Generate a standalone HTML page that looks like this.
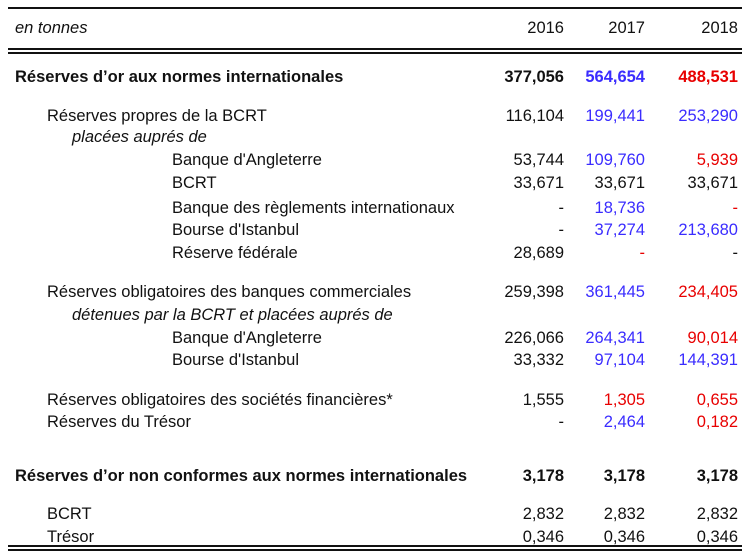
<!DOCTYPE html>
<html><head><meta charset="utf-8"><style>
body{margin:0;width:754px;height:558px;background:#fff;position:relative;overflow:hidden;font-family:"Liberation Sans",sans-serif;font-size:16.5px;color:#111}
.r{position:absolute;left:0;width:754px;height:20px;line-height:20px}
.l{position:absolute;white-space:nowrap}
.n{position:absolute;text-align:right;width:90px}
.b{font-weight:bold}.i .l{font-style:italic}
.bl{color:#3a2cff}.rd{color:#e80000}
.line{position:absolute;left:8px;width:734px;background:#111;height:2px}
</style></head><body>
<div class="line" style="top:7px"></div>
<div class="line" style="top:48px"></div>
<div class="line" style="top:52px"></div>
<div class="line" style="top:545px"></div>
<div class="line" style="top:549px"></div>
<div id="rows"></div>
<script>
const rows=[
[18,15,'en tonnes','i',['2016','2017','2018'],['','','']],
[67,15,'Réserves d’or aux normes internationales','b',['377,056','564,654','488,531'],['','bl','rd']],
[106,47,'Réserves propres de la BCRT','',['116,104','199,441','253,290'],['','bl','bl']],
[127,72,'placées auprés de','i',null,null],
[150,172,'Banque d\'Angleterre','',['53,744','109,760','5,939'],['','bl','rd']],
[173,172,'BCRT','',['33,671','33,671','33,671'],['','','']],
[198,172,'Banque des règlements internationaux','',['-','18,736','-'],['','bl','rd']],
[220,172,'Bourse d\'Istanbul','',['-','37,274','213,680'],['','bl','bl']],
[243,172,'Réserve fédérale','',['28,689','-','-'],['','rd','']],
[282,47,'Réserves obligatoires des banques commerciales','',['259,398','361,445','234,405'],['','bl','rd']],
[305,72,'détenues par la BCRT et placées auprés de','i',null,null],
[328,172,'Banque d\'Angleterre','',['226,066','264,341','90,014'],['','bl','rd']],
[350,172,'Bourse d\'Istanbul','',['33,332','97,104','144,391'],['','bl','bl']],
[390,47,'Réserves obligatoires des sociétés financières*','',['1,555','1,305','0,655'],['','rd','rd']],
[412,47,'Réserves du Trésor','',['-','2,464','0,182'],['','bl','rd']],
[466,15,'Réserves d’or non conformes aux normes internationales','b',['3,178','3,178','3,178'],['','','']],
[504,47,'BCRT','',['2,832','2,832','2,832'],['','','']],
[527,47,'Trésor','',['0,346','0,346','0,346'],['','','']]
];
const colRight=[564,645,738];
const host=document.getElementById('rows');
rows.forEach((r,k)=>{
 const d=document.createElement('div');d.className='r '+r[3];d.style.top=r[0]+'px';
 
 
 const l=document.createElement('span');l.className='l';l.style.left=r[1]+'px';l.textContent=r[2];
 
 
 d.appendChild(l);
 if(r[4])r[4].forEach((v,j)=>{
  const n=document.createElement('span');n.className='n '+r[5][j];n.style.left=(colRight[j]-90)+'px';n.textContent=v;
  
  
  d.appendChild(n);});
 host.appendChild(d);
});
</script>
</body></html>
